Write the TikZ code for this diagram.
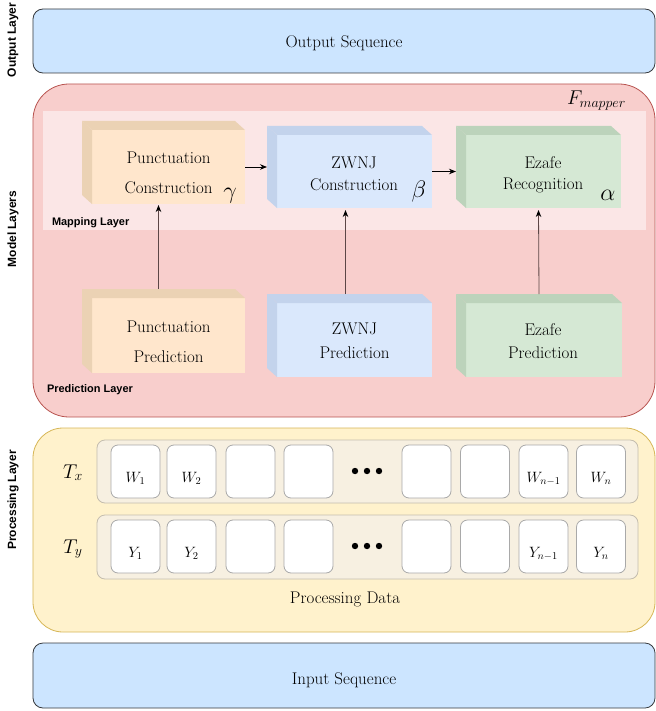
\RequirePackage{fix-cm}
\documentclass[tikz,border=0pt]{standalone}
\usepackage[no-math]{fontspec}
\newfontfamily\lblfont{Liberation Sans}
\usetikzlibrary{calc,arrows.meta}

\definecolor{seqfill}{HTML}{CCE5FF}
\definecolor{seqdraw}{HTML}{36393D}
\definecolor{modfill}{HTML}{F8CECC}
\definecolor{moddraw}{HTML}{B85450}
\definecolor{mapfill}{HTML}{FBE6E6}
\definecolor{procfill}{HTML}{FFF2CC}
\definecolor{procdraw}{HTML}{D6B656}
\definecolor{rowfill}{HTML}{F7F0E1}
\definecolor{rowdraw}{HTML}{C4BDAE}
\definecolor{celldraw}{HTML}{A9A9A9}
\definecolor{orfront}{HTML}{FFE6CC}
\definecolor{orside}{HTML}{EBD2B4}
\definecolor{blfront}{HTML}{DAE8FC}
\definecolor{blside}{HTML}{C3D3EC}
\definecolor{grfront}{HTML}{D5E8D4}
\definecolor{grside}{HTML}{BCD3BB}
\definecolor{linkcol}{HTML}{5C4646}

\newcommand\cubebox[7]{%
  \node[fill=#6,minimum width=#4bp,minimum height=#5bp] (#1) at (#2,#3) {};
  \fill[#7] (#1.north west) -- ++(-10,-9) -- ($(#1.south west)+(-10,-9)$) -- (#1.south west) -- cycle;
  \fill[#7] (#1.north west) -- ++(-10,-9) -- ($(#1.north east)+(-10,-9)$) -- (#1.north east) -- cycle;
}

\begin{document}
\begin{tikzpicture}[x=1bp,y=-1bp,
  every node/.style={inner sep=0pt,outer sep=0pt},
  seqbox/.style={draw=seqdraw,fill=seqfill,line width=0.8bp,rounded corners=10bp},
  modelbox/.style={draw=moddraw,fill=modfill,line width=0.8bp,rounded corners=36bp},
  mapbox/.style={fill=mapfill},
  procbox/.style={draw=procdraw,fill=procfill,line width=0.8bp,rounded corners=30bp},
  rowbox/.style={draw=rowdraw,fill=rowfill,line width=0.8bp,rounded corners=8bp,minimum width=541bp},
  cellbox/.style={draw=celldraw,fill=white,line width=0.8bp,rounded corners=7bp,minimum width=49bp,minimum height=53bp},
  sidelbl/.style={rotate=90,font=\lblfont\bfseries\fontsize{12}{14}\selectfont},
  innerlbl/.style={font=\lblfont\bfseries\fontsize{11}{13}\selectfont,anchor=base west},
  boxtxt/.style={font=\rmfamily\fontsize{17}{20}\selectfont,anchor=base},
  greek/.style={font=\fontsize{24}{26}\selectfont,anchor=base},
  celltxt/.style={font=\fontsize{15}{18}\selectfont,anchor=base},
  arr/.style={line width=0.8bp,-{Stealth[length=7bp,width=5.5bp]}},
  link/.style={draw=linkcol,line width=0.8bp,-{Stealth[length=7bp,width=5.5bp,color=black]}},
]
\useasboundingbox (0,0) rectangle (656,711);

% side labels
\node[sidelbl] (lblout) at (13,40) {Output Layer};
\node[sidelbl] (lblmod) at (13,229) {Model Layers};
\node[sidelbl] (lblproc) at (13,500) {Processing Layer};

% output layer
\node[seqbox,minimum width=622bp,minimum height=64bp] (outbox) at (344,41) {};
\node[boxtxt] (outtxt) at (344,48) {Output Sequence};

% model layers
\node[modelbox,minimum width=622bp,minimum height=333bp] (model) at (344,250.5) {};
\node[mapbox,minimum width=603bp,minimum height=119bp] (mapping) at (344.5,170.5) {};
\node[anchor=base west,font=\fontsize{20}{24}\selectfont] (fmap) at (567,105) {$F_{mapper}$};
\node[innerlbl] (maplbl) at (52,225) {Mapping Layer};
\node[innerlbl] (predlbl) at (47,392) {Prediction Layer};

% cubes
\cubebox{pc}{168.5}{167}{153}{74}{orfront}{orside}
\cubebox{zc}{354.5}{171.5}{155}{73}{blfront}{blside}
\cubebox{ec}{543.5}{171.5}{155}{73}{grfront}{grside}
\cubebox{pp}{168.5}{335.5}{153}{75}{orfront}{orside}
\cubebox{zp}{354.5}{340}{155}{74}{blfront}{blside}
\cubebox{ep}{544}{340}{156}{74}{grfront}{grside}

\node[boxtxt] (pct1) at (168.5,163) {Punctuation};
\node[boxtxt] (pct2) at (168.5,193) {Construction};
\node[greek] (gam) at (230,198) {$\gamma$};
\node[boxtxt] (zct1) at (354,168) {ZWNJ};
\node[boxtxt] (zct2) at (354,190) {Construction};
\node[greek] (bet) at (419,197) {$\beta$};
\node[boxtxt] (ect1) at (543,168) {Ezafe};
\node[boxtxt] (ect2) at (543,189) {Recognition};
\node[greek] (alp) at (608,200) {$\alpha$};
\node[boxtxt] (ppt1) at (168.5,332) {Punctuation};
\node[boxtxt] (ppt2) at (168.5,362) {Prediction};
\node[boxtxt] (zpt1) at (354.5,334) {ZWNJ};
\node[boxtxt] (zpt2) at (354.5,358) {Prediction};
\node[boxtxt] (ept1) at (543,335) {Ezafe};
\node[boxtxt] (ept2) at (543,358) {Prediction};

% connectors
\coordinate (zcL) at ($(zc.west)+(-10,0)$);
\coordinate (ecL) at ($(ec.west)+(-10,0)$);
\draw[arr] (pc.east) -- (zcL |- pc.east);
\draw[arr] (zc.east) -- (ecL |- zc.east);
\draw[link] ($(pp.north)+(-10,-9)$) -- ($(pc.south)+(-10,1)$);
\draw[link] ($(zp.north)+(-9,-9)$) -- ($(zc.south)+(-9,2)$);
\draw[link] ($(ep.north)+(-5,-9)$) -- ($(ec.south)+(-5,2)$);

% processing layer
\node[procbox,minimum width=622bp,minimum height=204bp] (proc) at (344,530) {};
\node[rowbox,minimum height=63bp] (rowx) at (367.5,471.5) {};
\node[rowbox,minimum height=64bp] (rowy) at (367.5,547) {};
\node[anchor=base,font=\fontsize{20}{24}\selectfont] (tx) at (73,478) {$T_x$};
\node[anchor=base,font=\fontsize{20}{24}\selectfont] (ty) at (73,553) {$T_y$};

\foreach \i/\cx in {1/135.5,2/191.5,3/250.5,4/308.5,5/426.5,6/485,7/543.5,8/601}{
  \node[cellbox] (cx\i) at (\cx,471.5) {};
  \node[cellbox] (cy\i) at (\cx,546.5) {};
}
\node[celltxt] (w1) at (cx1.center |- 0,482) {$W_1$};
\node[celltxt] (w2) at (cx2.center |- 0,482) {$W_2$};
\node[celltxt] (w7) at (cx7.center |- 0,482) {$W_{n-1}$};
\node[celltxt] (w8) at (cx8.center |- 0,482) {$W_n$};
\node[celltxt] (y1) at (cy1.center |- 0,557) {$Y_1$};
\node[celltxt] (y2) at (cy2.center |- 0,557) {$Y_2$};
\node[celltxt] (y7) at (cy7.center |- 0,557) {$Y_{n-1}$};
\node[celltxt] (y8) at (cy8.center |- 0,557) {$Y_n$};
\foreach \dx in {355,367,379}{
  \fill (\dx,471) circle (3.2bp);
  \fill (\dx,546) circle (3.2bp);
}
\node[boxtxt] (pdata) at (345,603) {Processing Data};

% input layer
\node[seqbox,minimum width=622bp,minimum height=65bp] (inbox) at (344,675.5) {};
\node[boxtxt] (intxt) at (344,684) {Input Sequence};
\end{tikzpicture}
\end{document}
